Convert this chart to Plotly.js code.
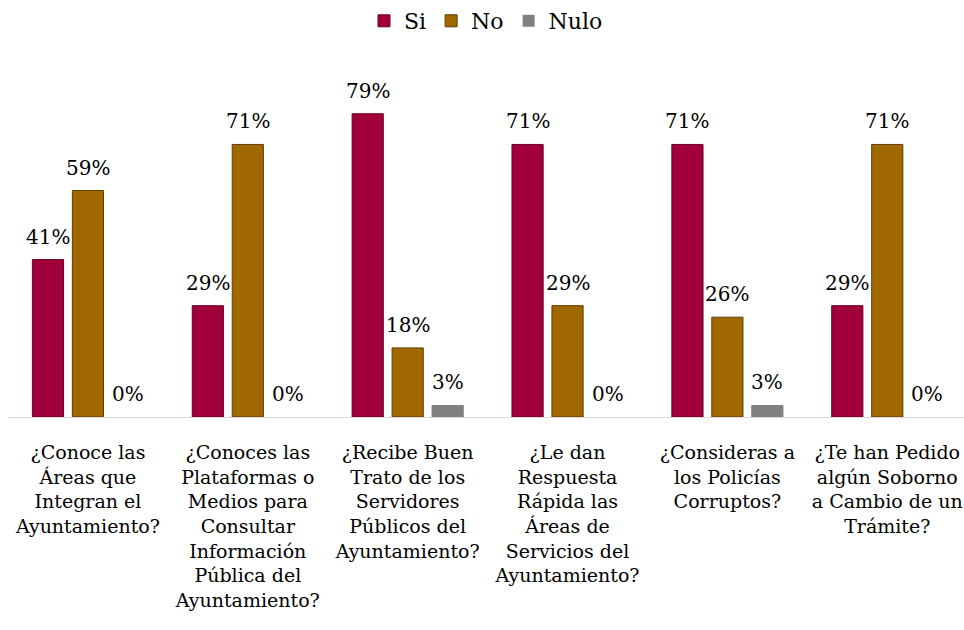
<!DOCTYPE html>
<html><head><meta charset="utf-8">
<script src="https://cdn.plot.ly/plotly-3.0.1.min.js"></script>
<style>html,body{margin:0;padding:0;background:#fff}#chart{width:964px;height:630px}</style>
</head><body><div id="chart"></div>
<script>
const categories = [
  "¿Conoce las<br>Áreas que<br>Integran el<br>Ayuntamiento?",
  "¿Conoces las<br>Plataformas o<br>Medios para<br>Consultar<br>Información<br>Pública del<br>Ayuntamiento?",
  "¿Recibe Buen<br>Trato de los<br>Servidores<br>Públicos del<br>Ayuntamiento?",
  "¿Le dan<br>Respuesta<br>Rápida las<br>Áreas de<br>Servicios del<br>Ayuntamiento?",
  "¿Consideras a<br>los Policías<br>Corruptos?",
  "¿Te han Pedido<br>algún Soborno<br>a Cambio de un<br>Trámite?"
];
const seriesNames = ["Si", "No", "Nulo"];
const siValues = [41, 29, 79, 71, 71, 29];
const noValues = [59, 71, 18, 29, 26, 71];
const nuloValues = [0, 0, 3, 0, 3, 0];
const colors = ["#A1003A", "#A06800", "#808080"];
const lineColors = ["#6b0026", "#5e3d00", "#808080"];

const FONT = "DejaVu Serif";
const allValues = [siValues, noValues, nuloValues];
const traces = allValues.map((vals, i) => ({
  type: "bar",
  name: seriesNames[i],
  x: categories,
  y: vals,
  marker: {color: colors[i], line: {color: lineColors[i], width: vals.map(v => v > 0 ? 1 : 0)}},
  hoverinfo: "skip"
}));

const slotPx = 40;
const annotations = [];
allValues.forEach((vals, i) => {
  vals.forEach((v, j) => {
    annotations.push({
      x: categories[j], y: v, xref: "x", yref: "y",
      text: v + "%", showarrow: false,
      xshift: (i - 1) * slotPx, yshift: 23, yanchor: "middle",
      font: {family: FONT, size: 20, color: "#000"}
    });
  });
});

const layout = {
  width: 964, height: 630,
  margin: {l: 8, r: 0, t: 50, b: 213},
  paper_bgcolor: "#fff", plot_bgcolor: "#fff",
  barmode: "group",
  bargap: 0.25,
  bargroupgap: 0.22,
  font: {family: FONT, color: "#000"},
  showlegend: true,
  legend: {orientation: "h", x: 0.5, xanchor: "center", y: 1, yref: "container", yanchor: "top",
           font: {family: FONT, size: 22, color: "#000"}, itemwidth: 30, traceorder: "normal"},
  xaxis: {type: "category", range: [-0.5, 5.48], showline: true, linecolor: "#d9d9d9", linewidth: 1,
          ticks: "", showgrid: false, zeroline: false, tickangle: 0,
          tickfont: {family: FONT, size: 19, color: "#000"}, automargin: false, ticklabelstandoff: 18},
  yaxis: {range: [0, 95.6], visible: false, showgrid: false, zeroline: false, fixedrange: true},
  annotations: annotations
};
Plotly.newPlot("chart", traces, layout, {displayModeBar: false, staticPlot: true});
</script></body></html>
